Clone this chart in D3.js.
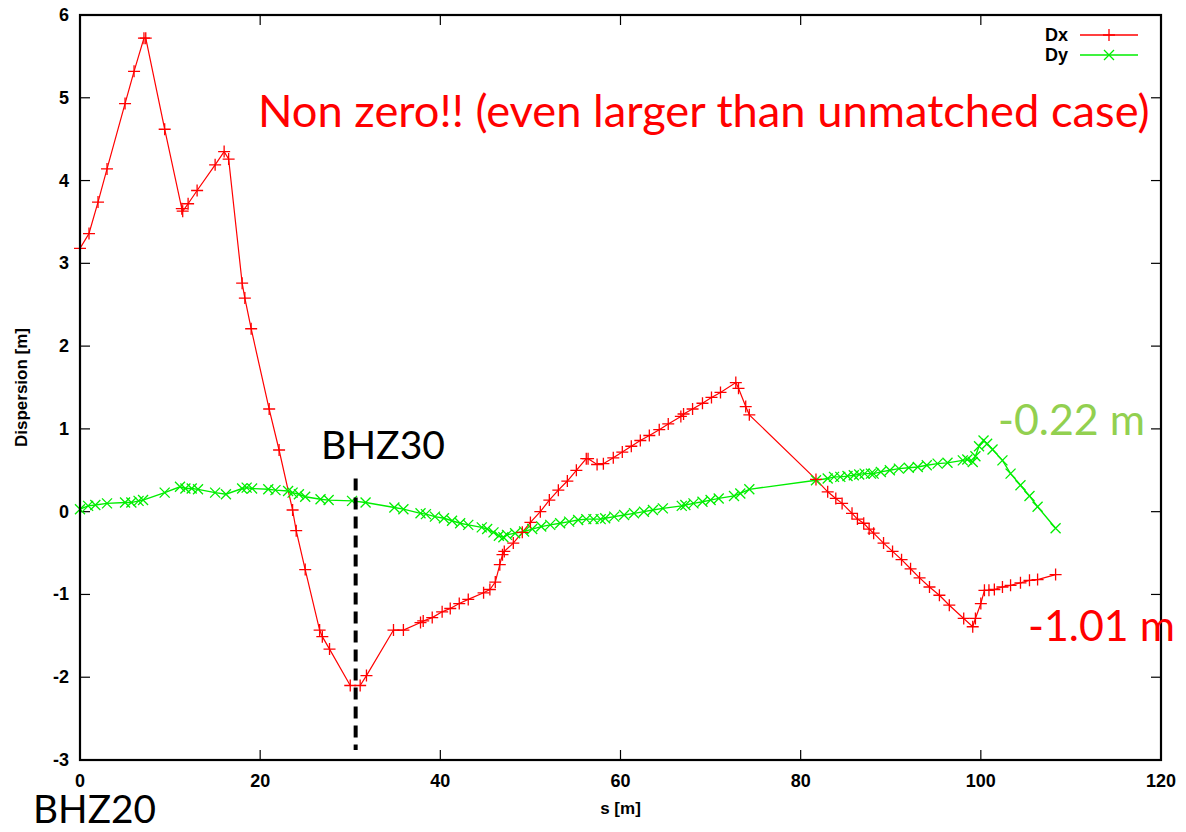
<!DOCTYPE html>
<html>
<head>
<meta charset="utf-8">
<script src="https://cdn.jsdelivr.net/npm/d3@7/dist/d3.min.js"></script>
<style>
  body { margin: 0; background: #fff; }
  .tick-label { font-family: "Liberation Sans", Arial, sans-serif; font-weight: bold; font-size: 18px; }
  .note { font-family: Lato, "Open Sans", sans-serif; }
</style>
</head>
<body>
<div id="chart"></div>
<script>
// s [m] and dispersion [m]
var dxS = [0, 1.0, 2.0, 3.0, 5.0, 6.0, 7.1, 7.3,
  9.4, 11.3, 11.4, 12.0, 13.0, 15.0, 16.0, 16.5,
  18.0, 18.3, 19.0, 21.0, 22.1,
  23.6, 24.0, 25.0, 26.6, 26.9, 27.7,
  30.0, 31.1, 31.8,
  34.8, 35.9, 37.8, 38.1, 39.1, 40.2, 41.1, 42.1, 43.1,
  44.8, 45.5, 46.1, 46.6, 46.9, 47.1,
  48.1, 49.1, 50.0, 51.1, 52.1, 53.1, 54.1, 55.1,
  56.2, 56.4, 57.4, 58.1,
  59.2, 60.2, 61.2, 62.2, 63.2, 64.3, 65.3,
  66.7, 67.0, 68.0, 69.1, 70.1, 71.1,
  72.8, 73.1, 73.9, 74.3,
  81.7, 83.0, 83.9, 84.6, 85.7, 86.3, 87.0, 87.6, 88.1,
  89.2, 90.2, 91.2, 92.2, 93.2, 94.3, 95.4, 96.5,
  98.1, 99.1, 99.4, 100.0, 100.4, 100.9, 101.5,
  102.4, 103.3, 104.4, 105.4, 106.3, 108.3];
var dxD = [3.18, 3.36, 3.74, 4.14, 4.93, 5.32, 5.72, 5.72,
  4.62, 3.66, 3.63, 3.72, 3.88, 4.19, 4.35, 4.26,
  2.76, 2.58, 2.21, 1.24, 0.745,
  0.02, -0.23, -0.70, -1.43, -1.51, -1.66,
  -2.10, -2.10, -1.98,
  -1.43, -1.43, -1.34, -1.32, -1.28, -1.21, -1.17, -1.11, -1.06,
  -0.98, -0.94, -0.85, -0.64, -0.52, -0.48,
  -0.38, -0.25, -0.13, 0.0, 0.14, 0.26, 0.37, 0.50,
  0.64, 0.64, 0.57, 0.58,
  0.65, 0.72, 0.79, 0.86, 0.92, 0.99, 1.06,
  1.15, 1.18, 1.24, 1.31, 1.38, 1.44,
  1.56, 1.49, 1.27, 1.17,
  0.39, 0.24, 0.16, 0.10, -0.02, -0.09, -0.14, -0.21, -0.26,
  -0.38, -0.48, -0.58, -0.69, -0.80, -0.91, -1.01, -1.13,
  -1.29, -1.39, -1.29, -1.11, -0.95, -0.95, -0.94,
  -0.91, -0.89, -0.86, -0.83, -0.82, -0.76];

var dyS = [0, 0.9, 1.7, 3.0, 5.0, 5.7, 6.5, 7.0,
  9.4, 11.1, 11.7, 12.4, 13.1, 15.0, 16.2,
  18.0, 18.5, 19.1, 20.9, 21.7,
  23.1, 23.6, 24.3, 25.0, 26.7, 27.6, 30.2, 31.7, 34.9, 35.9,
  37.8, 38.4, 39.4, 40.4, 41.3, 42.2, 43.1,
  44.6, 45.2, 45.9, 46.5, 47.0, 47.4,
  48.3, 49.3, 50.2, 51.2, 52.2, 53.3, 54.3, 55.3,
  56.2, 57.0, 57.8, 58.3,
  59.3, 60.4, 61.5, 62.6, 63.6, 64.7,
  66.8, 67.2, 68.1, 69.1, 70.0, 70.9,
  72.6, 73.3, 74.3,
  81.7, 83.0, 83.7, 84.4, 85.2, 85.9, 86.5, 87.1, 87.8, 88.1,
  88.9, 89.9, 90.9, 92.0, 93.0, 94.0, 95.2, 96.3,
  98.0, 98.5, 99.1, 99.4, 99.8, 100.3, 100.7, 101.3,
  102.4, 103.3, 104.4, 105.4, 106.3, 108.3];
var dyD = [0.03, 0.07, 0.08, 0.10, 0.11, 0.11, 0.13, 0.14,
  0.23, 0.30, 0.28, 0.28, 0.27, 0.23, 0.21,
  0.28, 0.29, 0.28, 0.27, 0.26,
  0.25, 0.23, 0.21, 0.18, 0.15, 0.14, 0.13, 0.11, 0.05, 0.03,
  -0.02, -0.03, -0.06, -0.08, -0.11, -0.14, -0.16,
  -0.19, -0.21, -0.25, -0.29, -0.31, -0.28,
  -0.26, -0.24, -0.21, -0.18, -0.16, -0.14, -0.12, -0.10,
  -0.09, -0.09, -0.09, -0.08,
  -0.06, -0.04, -0.02, 0.0, 0.02, 0.04,
  0.07, 0.08, 0.10, 0.12, 0.14, 0.16,
  0.19, 0.22, 0.27,
  0.38, 0.40, 0.42, 0.42, 0.43, 0.44, 0.45, 0.46, 0.46, 0.46,
  0.48, 0.50, 0.52, 0.53, 0.54, 0.56, 0.58, 0.59,
  0.62, 0.63, 0.60, 0.67, 0.79, 0.86, 0.82, 0.75,
  0.62, 0.46, 0.32, 0.19, 0.06, -0.20];

var xTicks = [0, 20, 40, 60, 80, 100, 120];
var yTicks = [-3, -2, -1, 0, 1, 2, 3, 4, 5, 6];
var seriesNames = ["Dx", "Dy"];

// BHZ30 marker line: s position and vertical extent
var bhz30S = 30.6, bhz30Top = 0.4, bhz30Bottom = -2.88;

var width = 1186, height = 832;
var margin = {top: 15, right: 25, bottom: 72, left: 80};

var svg = d3.select("#chart").append("svg")
    .attr("width", width)
    .attr("height", height);

var x = d3.scaleLinear().domain([0, 120]).range([margin.left, width - margin.right]);
var y = d3.scaleLinear().domain([-3, 6]).range([height - margin.bottom, margin.top]);

var x0 = x.range()[0], x1 = x.range()[1], y0 = y.range()[0], y1 = y.range()[1];
var tl = 10;

// tick marks, mirrored on all four sides
var ticks = svg.append("g").attr("stroke", "#000").attr("stroke-width", 1.2);
xTicks.forEach(t => {
  ticks.append("line").attr("x1", x(t)).attr("x2", x(t)).attr("y1", y0).attr("y2", y0 - tl);
  ticks.append("line").attr("x1", x(t)).attr("x2", x(t)).attr("y1", y1).attr("y2", y1 + tl);
});
yTicks.forEach(t => {
  ticks.append("line").attr("x1", x0).attr("x2", x0 + tl).attr("y1", y(t)).attr("y2", y(t));
  ticks.append("line").attr("x1", x1).attr("x2", x1 - tl).attr("y1", y(t)).attr("y2", y(t));
});

svg.append("g").selectAll("text").data(xTicks).enter().append("text")
    .attr("class", "tick-label")
    .attr("x", d => x(d))
    .attr("y", y0 + 27)
    .attr("text-anchor", "middle")
    .text(d => d);

svg.append("g").selectAll("text").data(yTicks).enter().append("text")
    .attr("class", "tick-label")
    .attr("x", x0 - 11)
    .attr("y", d => y(d) + 6)
    .attr("text-anchor", "end")
    .text(d => d);

svg.append("text")
    .attr("class", "tick-label")
    .attr("x", (x0 + x1) / 2)
    .attr("y", 814)
    .attr("text-anchor", "middle")
    .style("font-size", "17px")
    .text("s [m]");

svg.append("text")
    .attr("class", "tick-label")
    .attr("transform", "translate(27," + ((y0 + y1) / 2) + ") rotate(-90)")
    .attr("text-anchor", "middle")
    .style("font-size", "17px")
    .text("Dispersion [m]");

var dx = dxS.map((s, i) => ({s: s, d: dxD[i]}));
var dy = dyS.map((s, i) => ({s: s, d: dyD[i]}));

var line = d3.line().x(p => x(p.s)).y(p => y(p.d));

var plot = svg.append("g");

plot.append("path").datum(dx)
    .attr("d", line)
    .attr("fill", "none")
    .attr("stroke", "#ff0000")
    .attr("stroke-width", 1.2);

plot.append("path").datum(dy)
    .attr("d", line)
    .attr("fill", "none")
    .attr("stroke", "#00ee00")
    .attr("stroke-width", 1.4);

var plusPath = a => `M${-a},0H${a}M0,${-a}V${a}`;
var crossPath = a => `M${-a},${-a}L${a},${a}M${-a},${a}L${a},${-a}`;

plot.append("g").selectAll("path").data(dy).enter().append("path")
    .attr("transform", p => `translate(${x(p.s)},${y(p.d)})`)
    .attr("d", crossPath(5))
    .attr("stroke", "#00ee00")
    .attr("stroke-width", 1.3);

plot.append("g").selectAll("path").data(dx).enter().append("path")
    .attr("transform", p => `translate(${x(p.s)},${y(p.d)})`)
    .attr("d", plusPath(6))
    .attr("stroke", "#ff0000")
    .attr("stroke-width", 1.3);

// legend
var legend = svg.append("g");
[["#ff0000", plusPath(6)], ["#00ee00", crossPath(5)]].forEach((c, i) => {
  var ly = 35 + i * 20;
  legend.append("text").attr("class", "tick-label")
      .attr("x", 1068).attr("y", ly + 6).attr("text-anchor", "end")
      .style("font-size", "18px")
      .text(seriesNames[i]);
  legend.append("line").attr("x1", 1080).attr("x2", 1138).attr("y1", ly).attr("y2", ly)
      .attr("stroke", c[0]).attr("stroke-width", 1.3);
  legend.append("path").attr("transform", `translate(1109,${ly})`).attr("d", c[1])
      .attr("stroke", c[0]).attr("stroke-width", 1.3);
});

// frame
svg.append("rect")
    .attr("x", x0).attr("y", y1)
    .attr("width", x1 - x0).attr("height", y0 - y1)
    .attr("fill", "none")
    .attr("stroke", "#000")
    .attr("stroke-width", 2.2);

// BHZ30 dashed marker
svg.append("line")
    .attr("x1", x(bhz30S)).attr("x2", x(bhz30S))
    .attr("y1", y(bhz30Top)).attr("y2", y(bhz30Bottom))
    .attr("stroke", "#000")
    .attr("stroke-width", 4)
    .attr("stroke-dasharray", "12,7");

// annotations, sized to their width in the original
function note(txt, left, baseline, w, color) {
  var t = svg.append("text").attr("class", "note")
      .attr("x", left).attr("y", baseline)
      .attr("fill", color)
      .style("font-size", "40px")
      .text(txt);
  var m = t.node().getComputedTextLength();
  t.style("font-size", (40 * w / m) + "px");
  return t;
}

note("Non zero!! (even larger than unmatched case)", 258, 127, 892, "#ff0000");
note("BHZ30", 321, 459, 124, "#000");
note("-0.22 m", 998, 435, 147, "#92d050");
note("-1.01 m", 1028, 641, 147, "#ff0000");
note("BHZ20", 33, 823, 123, "#000");
</script>
</body>
</html>
